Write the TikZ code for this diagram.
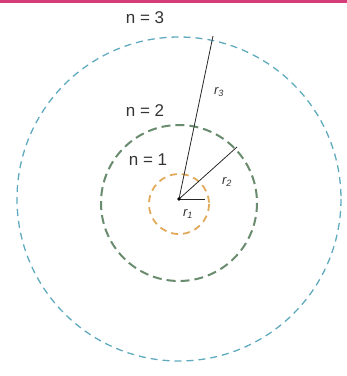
\documentclass[tikz,border=0pt]{standalone}
\usepackage{fontspec}
\setmainfont{Liberation Sans}
\usepackage{tikz}
\usetikzlibrary{
	positioning,
	calc
}
\definecolor{bandpink}{RGB}{214,60,120}
\definecolor{orbitblue}{RGB}{95,170,190}
\definecolor{orbitgreen}{RGB}{105,140,110}
\definecolor{orbitorange}{RGB}{225,170,90}

\begin{document}
\begin{tikzpicture}[
				x=1pt, y=-1pt,
				orbit/.style={
					dash pattern=on 7pt off 5pt,
					line width=1.3pt
				},
				radline/.style={
					line width=0.8pt,
					black!85
				},
				level/.style={
					font=\fontsize{17}{19}\selectfont,
					text=black!80,
					inner sep=0pt
				},
				rlabel/.style={
					font=\fontsize{13}{14}\selectfont\itshape,
					text=black!80,
					inner sep=0pt
				}
				]
				
				\useasboundingbox (0,0) rectangle (347,376);
				\fill[bandpink] (0,0) rectangle (347,3);
				
				\coordinate (nucleus) at (179,199);
				
				% orbits
				\draw[orbit, orbitblue] (nucleus) circle[radius=162];
				\draw[orbit, orbitgreen, line width=2pt, dash pattern=on 9pt off 5pt] ($(nucleus)+(0,4)$) circle[radius=78];
				\draw[orbit, orbitorange, line width=1.8pt] ($(nucleus)+(0,5)$) circle[radius=30];
				
				\coordinate (e3) at (213,36);
				\coordinate (e2) at (237,147);
				\coordinate (e1) at (205,199);
				
				\draw[radline] (nucleus) -- (e3);
				\draw[radline] (nucleus) -- (e2);
				\draw[radline] (nucleus) -- (e1);
				\fill (nucleus) circle[radius=1.8];
				
				\node[level] (n3) at (145,18) {n = 3};
				\node[level] (n2) at (145,111) {n = 2};
				\node[level] (n1) at (148,160) {n = 1};
				
				\node[rlabel] (r3) at (219,92) {r\textsubscript{3}};
				\node[rlabel] (r2) at (227,182) {r\textsubscript{2}};
				\node[rlabel] (r1) at (188,214) {r\textsubscript{1}};
				
			\end{tikzpicture}
\end{document}
